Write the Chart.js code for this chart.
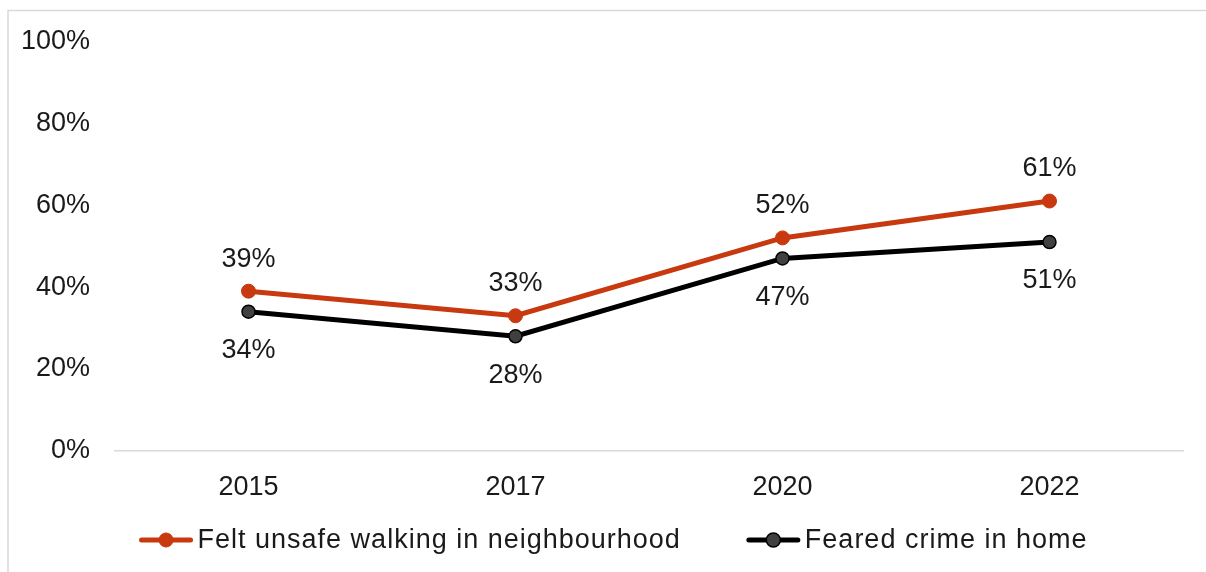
<!DOCTYPE html>
<html>
<head>
<meta charset="utf-8">
<title>Safety perceptions</title>
<script src="https://cdn.jsdelivr.net/npm/chart.js@4.4.1/dist/chart.umd.min.js"></script>
<style>
  html, body { margin: 0; padding: 0; background: #ffffff; }
  #wrap { width: 1206px; height: 572px; position: relative; }
</style>
</head>
<body>
<div id="wrap"><canvas id="chart" width="1206" height="572"></canvas></div>
<script>
// Survey years on the x axis
const years = ['2015', '2017', '2020', '2022'];

// Share of respondents (%)
const feltUnsafeWalking = [39, 33, 52, 61];
const fearedCrimeAtHome = [34, 28, 47, 51];

// Y axis ticks (%)
const yTicks = [0, 20, 40, 60, 80, 100];

const seriesNames = ['Felt unsafe walking in neighbourhood', 'Feared crime in home'];

const ORANGE = '#C8390F';
const DARK = '#000000';
const DARK_POINT = '#404040';
const FRAME = '#D9D9D9';
const TEXT = '#1a1a1a';
const FONT_FAMILY = '"Liberation Sans", Arial, sans-serif';
const FONT_SIZE = 27;

// Light frame around the whole chart
const framePlugin = {
  id: 'frame',
  beforeDraw(chart) {
    const ctx = chart.ctx;
    ctx.save();
    ctx.fillStyle = '#ffffff';
    ctx.fillRect(0, 0, chart.width, chart.height);
    ctx.strokeStyle = FRAME;
    ctx.lineWidth = 1.5;
    ctx.strokeRect(8, 10.5, chart.width + 20, chart.height + 20);
    ctx.restore();
  }
};

// Value labels above or below each point
const valueLabelPlugin = {
  id: 'valueLabels',
  afterDatasetsDraw(chart) {
    const ctx = chart.ctx;
    ctx.save();
    ctx.font = FONT_SIZE + 'px ' + FONT_FAMILY;
    ctx.fillStyle = TEXT;
    ctx.textAlign = 'center';
    ctx.textBaseline = 'middle';
    chart.data.datasets.forEach((ds, i) => {
      const meta = chart.getDatasetMeta(i);
      if (meta.hidden) return;
      meta.data.forEach((pt, j) => {
        const offset = ds.labelSide === 'above' ? -32 : 39;
        ctx.fillText(ds.data[j] + '%', pt.x, pt.y + offset);
      });
    });
    ctx.restore();
  }
};

// Legend at the bottom: line-and-marker sample followed by the series name
const bottomLegendPlugin = {
  id: 'bottomLegend',
  afterDraw(chart) {
    const ctx = chart.ctx;
    const sampleW = 55, gapText = 4, gapItems = 65;
    const y = 540;
    ctx.save();
    ctx.font = FONT_SIZE + 'px ' + FONT_FAMILY;
    ctx.letterSpacing = '1px';
    const items = chart.data.datasets.map(ds => ({
      ds, w: sampleW + gapText + ctx.measureText(ds.label).width
    }));
    const total = items.reduce((s, it) => s + it.w, 0) + gapItems * (items.length - 1);
    let x = 613 - total / 2;
    items.forEach(({ ds, w }) => {
      ctx.strokeStyle = ds.borderColor;
      ctx.lineWidth = 5;
      ctx.lineCap = 'round';
      ctx.beginPath();
      ctx.moveTo(x + 3, y);
      ctx.lineTo(x + sampleW - 3, y);
      ctx.stroke();
      ctx.beginPath();
      ctx.arc(x + sampleW / 2, y, 7, 0, Math.PI * 2);
      ctx.fillStyle = ds.pointBackgroundColor;
      ctx.fill();
      ctx.lineWidth = ds.pointBorderWidth;
      ctx.strokeStyle = ds.pointBorderColor;
      ctx.stroke();
      ctx.fillStyle = TEXT;
      ctx.textAlign = 'left';
      ctx.textBaseline = 'middle';
      ctx.fillText(ds.label, x + sampleW + gapText, y + 1);
      x += w + gapItems;
    });
    ctx.restore();
  }
};

new Chart(document.getElementById('chart'), {
  type: 'line',
  data: {
    labels: years,
    datasets: [
      {
        label: seriesNames[0],
        data: feltUnsafeWalking,
        labelSide: 'above',
        borderColor: ORANGE,
        backgroundColor: ORANGE,
        borderWidth: 5,
        pointRadius: 7,
        pointBackgroundColor: ORANGE,
        pointBorderColor: ORANGE,
        pointBorderWidth: 1,
        tension: 0,
        order: 0
      },
      {
        label: seriesNames[1],
        data: fearedCrimeAtHome,
        labelSide: 'below',
        borderColor: DARK,
        backgroundColor: DARK,
        borderWidth: 5,
        pointRadius: 6.5,
        pointBackgroundColor: DARK_POINT,
        pointBorderColor: DARK,
        pointBorderWidth: 1.5,
        tension: 0,
        order: 1
      }
    ]
  },
  options: {
    responsive: false,
    animation: false,
    devicePixelRatio: 1,
    layout: { padding: { left: 0, right: 23, top: 40, bottom: 54 } },
    plugins: {
      legend: { display: false },
      tooltip: { enabled: false }
    },
    scales: {
      x: {
        offset: true,
        grid: { display: false, drawTicks: false },
        border: { display: true, color: FRAME, width: 1.5 },
        ticks: {
          color: TEXT,
          padding: 20,
          font: { family: FONT_FAMILY, size: FONT_SIZE }
        },
        afterFit(scale) { scale.height = 67; }
      },
      y: {
        min: 0,
        max: 100,
        grid: { display: false, drawTicks: false },
        border: { display: false },
        afterBuildTicks(scale) { scale.ticks = yTicks.map(v => ({ value: v })); },
        ticks: {
          color: TEXT,
          padding: 25,
          font: { family: FONT_FAMILY, size: FONT_SIZE },
          callback: v => v + '%'
        },
        afterFit(scale) { scale.width = 115; }
      }
    }
  },
  plugins: [framePlugin, valueLabelPlugin, bottomLegendPlugin]
});
</script>
</body>
</html>
